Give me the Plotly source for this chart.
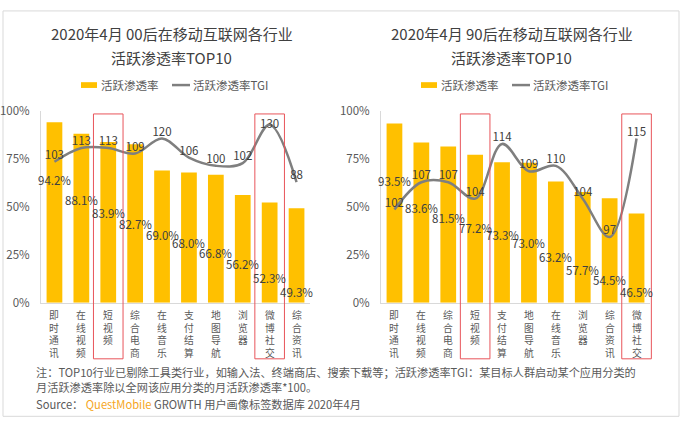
import plotly.graph_objects as go

W, H = 685, 431

# ---------------- data ----------------
categories_00 = ["即时通讯", "在线视频", "短视频", "综合电商", "在线音乐",
                 "支付结算", "地图导航", "浏览器", "微博社交", "综合资讯"]
penetration_00 = [94.2, 88.1, 83.9, 82.7, 69.0, 68.0, 66.8, 56.2, 52.3, 49.3]
tgi_00 = [103, 113, 113, 109, 120, 106, 100, 102, 130, 88]

categories_90 = ["即时通讯", "在线视频", "综合电商", "短视频", "支付结算",
                 "地图导航", "在线音乐", "浏览器", "综合资讯", "微博社交"]
penetration_90 = [93.5, 83.6, 81.5, 77.2, 73.3, 73.0, 63.2, 57.7, 54.5, 46.5]
tgi_90 = [102, 107, 107, 104, 114, 109, 110, 104, 97, 115]

highlight = ["短视频", "微博社交"]
y_ticks = [0, 25, 50, 75, 100]
y_tick_text = [f"{v}%" for v in y_ticks]

titles = [["2020年4月 00后在移动互联网各行业", "活跃渗透率TOP10"],
          ["2020年4月 90后在移动互联网各行业", "活跃渗透率TOP10"]]
legend_names = ["活跃渗透率", "活跃渗透率TGI"]
note_lines = ["注：TOP10行业已剔除工具类行业，如输入法、终端商店、搜索下载等；活跃渗透率TGI：某目标人群启动某个应用分类的",
              "月活跃渗透率除以全网该应用分类的月活跃渗透率*100。"]
source_text = ("Source： <span style='color:#F5A623'>QuestMobile</span>"
               " GROWTH 用户画像标签数据库 2020年4月")

# ---------------- layout helpers (positions / styles) ----------------
# y-position (in axis units) of the percentage labels, as placed in the original
pct_label_pos_00 = [63.8, 53.8, 46.6, 41.1, 35.3, 31.2, 26.1, 20.2, 13.1, 5.5]
pct_label_pos_90 = [63.3, 49.4, 44.4, 39.0, 35.3, 31.2, 24.0, 17.2, 11.7, 5.5]
tgi_text_pos_00 = ["top center"] * 8 + ["middle center", "top center"]
tgi_text_pos_90 = ["top center"] * 10
tgi_range_00 = [0, 140]
tgi_range_90 = [85, 120]

BAR_COLOR = "#FFC000"
LINE_COLOR = "#7F7F7F"
TEXT_DARK = "#404040"
TEXT_GRAY = "#595959"
RED = "#E8545A"
FONT = "Noto Sans CJK SC"


def px(x):
    return x / W


def py(y):
    return 1 - y / H


panels = [
    dict(cats=categories_00, pen=penetration_00, tgi=tgi_00, pos=pct_label_pos_00,
         tpos=tgi_text_pos_00, rng=tgi_range_00, xa="x", ya="y", ya2="y3",
         dom=[px(41), px(310)], off=0, title=titles[0]),
    dict(cats=categories_90, pen=penetration_90, tgi=tgi_90, pos=pct_label_pos_90,
         tpos=tgi_text_pos_90, rng=tgi_range_90, xa="x2", ya="y2", ya2="y4",
         dom=[px(381), px(650)], off=340, title=titles[1]),
]

fig = go.Figure()
annotations = []
shapes = []

for p in panels:
    fig.add_trace(go.Bar(x=p["cats"], y=p["pen"], xaxis=p["xa"], yaxis=p["ya"],
                         marker=dict(color=BAR_COLOR, line=dict(width=0)),
                         name=legend_names[0], showlegend=False, hoverinfo="skip"))
    fig.add_trace(go.Scatter(x=p["cats"], y=p["tgi"], xaxis=p["xa"], yaxis=p["ya2"],
                             mode="lines+text", text=[str(v) for v in p["tgi"]],
                             textposition=p["tpos"],
                             textfont=dict(size=11.5, color=TEXT_DARK, family=FONT),
                             line=dict(color=LINE_COLOR, width=2.5, shape="spline",
                                       smoothing=1.0),
                             name=legend_names[1], showlegend=False, hoverinfo="skip"))

    # percentage labels
    for c, v, pos in zip(p["cats"], p["pen"], p["pos"]):
        annotations.append(dict(x=c, y=pos, xref=p["xa"], yref=p["ya"],
                                xanchor="center", yanchor="middle",
                                text=f"{v:.1f}%", showarrow=False,
                                font=dict(size=11.5, color=TEXT_DARK)))

    # vertical category labels (one character per line)
    for c in p["cats"]:
        annotations.append(dict(x=c, y=0, xref=p["xa"], yref=p["ya"] + " domain",
                                yshift=-3, xanchor="center", yanchor="top",
                                text="<br>".join(c), showarrow=False,
                                font=dict(size=9.8, color=TEXT_GRAY)))

    # red highlight boxes
    n = len(p["cats"])
    for h in highlight:
        i = p["cats"].index(h)
        shapes.append(dict(type="rect", xref=p["xa"] + " domain", yref=p["ya"] + " domain",
                           x0=(i + 0.5 - 0.55) / n, x1=(i + 0.5 + 0.55) / n,
                           y0=-0.293, y1=0.985, line=dict(color=RED, width=1),
                           fillcolor="rgba(0,0,0,0)", layer="above"))

    off = p["off"]
    t = p["title"]
    for k, line in enumerate(t):
        annotations.append(dict(x=px(171.5 + off), y=py(25 + 25 * k), xref="paper",
                                yref="paper", xanchor="center", yanchor="middle",
                                text=line, showarrow=False,
                                font=dict(size=15, color=TEXT_DARK)))
    # manual legend
    shapes.append(dict(type="rect", xref="paper", yref="paper",
                       x0=px(81 + off), x1=px(97 + off), y0=py(82), y1=py(76),
                       fillcolor=BAR_COLOR, line=dict(width=0)))
    annotations.append(dict(x=px(99 + off), y=py(79), xref="paper", yref="paper",
                            xanchor="left", yanchor="middle", text=legend_names[0],
                            showarrow=False, font=dict(size=11.5, color=TEXT_GRAY)))
    shapes.append(dict(type="line", xref="paper", yref="paper",
                       x0=px(172 + off), x1=px(190 + off), y0=py(79), y1=py(79),
                       line=dict(color=LINE_COLOR, width=2.5)))
    annotations.append(dict(x=px(191 + off), y=py(79), xref="paper", yref="paper",
                            xanchor="left", yanchor="middle", text=legend_names[1],
                            showarrow=False, font=dict(size=11.5, color=TEXT_GRAY)))

# notes & source
annotations.append(dict(x=px(34), y=py(384.5), xref="paper", yref="paper",
                        xanchor="left", yanchor="middle", align="left",
                        text="<br>".join(note_lines), showarrow=False,
                        font=dict(size=11.2, color=TEXT_GRAY)))
annotations.append(dict(x=px(34), y=py(410), xref="paper", yref="paper",
                        xanchor="left", yanchor="middle", text=source_text, showarrow=False,
                        font=dict(size=11.2, color=TEXT_GRAY)))

# outer frame
shapes.append(dict(type="rect", xref="paper", yref="paper",
                   x0=px(3), x1=px(679), y0=py(423), y1=py(2),
                   line=dict(color="#D9D9D9", width=1), fillcolor="rgba(0,0,0,0)",
                   layer="below"))

ydom = [py(305), py(106)]


def xaxis(dom, cats):
    return dict(domain=dom, type="category", categoryorder="array", categoryarray=cats,
                range=[-0.5, len(cats) - 0.5], showticklabels=False, ticks="",
                showline=True, linecolor="#D9D9D9", linewidth=1, showgrid=False,
                zeroline=False, fixedrange=True)


def yaxis(anchor):
    return dict(domain=ydom, anchor=anchor, range=[0, 100], tickvals=y_ticks,
                ticktext=y_tick_text, ticks="", ticklabelstandoff=8,
                tickfont=dict(size=11.5, color=TEXT_GRAY),
                showline=True, linecolor="#D9D9D9", linewidth=1,
                showgrid=False, zeroline=False, fixedrange=True)


def yaxis2(overlay, rng):
    return dict(overlaying=overlay, range=rng, visible=False, showgrid=False,
                zeroline=False, fixedrange=True)


fig.update_layout(
    width=W, height=H,
    margin=dict(l=0, r=0, t=0, b=0),
    paper_bgcolor="white", plot_bgcolor="rgba(0,0,0,0)",
    font=dict(family=FONT, size=11.5, color=TEXT_GRAY),
    bargap=0.415,
    showlegend=False,
    xaxis=dict(xaxis(panels[0]["dom"], categories_00), anchor="y"),
    xaxis2=dict(xaxis(panels[1]["dom"], categories_90), anchor="y2"),
    yaxis=yaxis("x"),
    yaxis2=yaxis("x2"),
    yaxis3=yaxis2("y", tgi_range_00),
    yaxis4=yaxis2("y2", tgi_range_90),
    annotations=annotations,
    shapes=shapes,
)

fig.write_html("out.html")
